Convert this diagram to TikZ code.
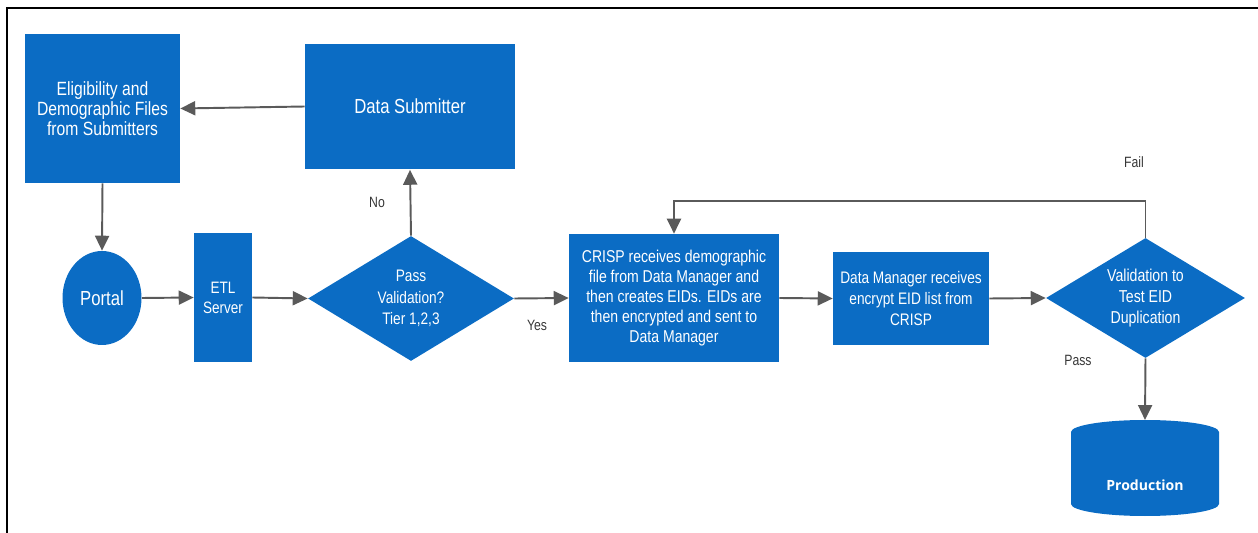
\documentclass[tikz,border=0pt]{standalone}
\usepackage{fontspec}
\usepackage{xcolor}
\usetikzlibrary{shapes.geometric,arrows.meta}
\setmainfont{Liberation Sans}
\newfontfamily\narrowfont{Liberation Sans}[FakeStretch=0.82]
\newfontfamily\prodfont{Open Sans}
\definecolor{eidblue}{RGB}{11,108,196}
\definecolor{linegray}{RGB}{90,90,90}
\definecolor{labelgray}{RGB}{55,55,55}

\tikzset{
	box/.style={fill=eidblue, text=white, align=center, inner sep=0pt},
	decision/.style={box, diamond, aspect=1.65},
	flow/.style={draw=linegray, line width=1.1pt, ->},
	lbl/.style={text=labelgray, font=\narrowfont\fontsize{8.5}{10}\selectfont}
}

\begin{document}
\begin{tikzpicture}[x={(0.02cm,0)}, y={(0,-0.02cm)}, >={Triangle[length=8.5pt,width=8pt]}]
		      		\useasboundingbox (0,0) rectangle (1258,533);
		      		\draw[line width=1.3pt] (7,533) -- (7,8) -- (1258,8);

		      		\node[box, minimum width=3.1cm, minimum height=2.98cm, font=\narrowfont\fontsize{10.9}{11.3}\selectfont] (elig) at (102.5,108.5) {Eligibility and\\Demographic Files\\from Submitters};
		      		\node[box, minimum width=4.2cm, minimum height=2.52cm, font=\narrowfont\fontsize{11.6}{13}\selectfont] (subm) at (410,106.5) {Data Submitter};
		      		\node[box, ellipse, minimum width=1.58cm, minimum height=1.88cm, font=\narrowfont\fontsize{11.6}{13}\selectfont] (portal) at (102,298) {Portal};
		      		\node[box, minimum width=1.16cm, minimum height=2.58cm, font=\narrowfont\fontsize{9.4}{11.3}\selectfont] (etl) at (223,297.5) {ETL\\Server};
		      		\node[decision, minimum width=4.12cm, minimum height=2.5cm, font=\narrowfont\fontsize{9.5}{12.2}\selectfont] (val) at (411,298.5) {Pass\\Validation?\\Tier 1,2,3};
		      		\node[box, minimum width=4.2cm, minimum height=2.56cm, font=\narrowfont\fontsize{9.75}{11.3}\selectfont] (crisp) at (674,298) {CRISP receives demographic\\file from Data Manager and\\then creates EIDs. EIDs are\\then encrypted and sent to\\Data Manager};
		      		\node[box, minimum width=3.12cm, minimum height=1.86cm, font=\narrowfont\fontsize{9.5}{11.9}\selectfont] (mgr) at (911,298.5) {Data Manager receives\\encrypt EID list from\\CRISP};
		      		\node[decision, minimum width=3.98cm, minimum height=2.4cm, font=\narrowfont\fontsize{9.8}{11.9}\selectfont] (dup) at (1145.5,298) {Validation to\\Test EID\\Duplication};

		      		\fill[eidblue] (1071,432) arc[start angle=180, end angle=360, x radius=74, y radius=12] -- (1219,504) arc[start angle=0, end angle=180, x radius=74, y radius=12] -- cycle;
		      		\node[text=white, font=\prodfont\bfseries\fontsize{8}{10}\selectfont] (prod) at (1145,485) {Production};
		      		\coordinate (prodtop) at (1145,420);

		      		\draw[flow] (subm.west) -- (elig.east);
		      		\draw[flow] (elig.south) -- (portal.north);
		      		\draw[flow] (portal.east) -- (etl.west);
		      		\draw[flow] (etl.east) -- (val.west);
		      		\draw[flow] (val.north) -- (subm.south);
		      		\draw[flow] (val.east) -- (crisp.west);
		      		\draw[flow] (crisp.east) -- (mgr.west);
		      		\draw[flow] (mgr.east) -- (dup.west);
		      		\draw[flow] (dup.north) -- ++(0,-37) -| (crisp.north);
		      		\draw[flow] (dup.south) -- (prodtop);

		      		\node[lbl] (no) at (377,202) {No};
		      		\node[lbl] (yes) at (537,325) {Yes};
		      		\node[lbl] (fail) at (1134,162) {Fail};
		      		\node[lbl] (pass) at (1078,360) {Pass};
		      	\end{tikzpicture}
\end{document}
